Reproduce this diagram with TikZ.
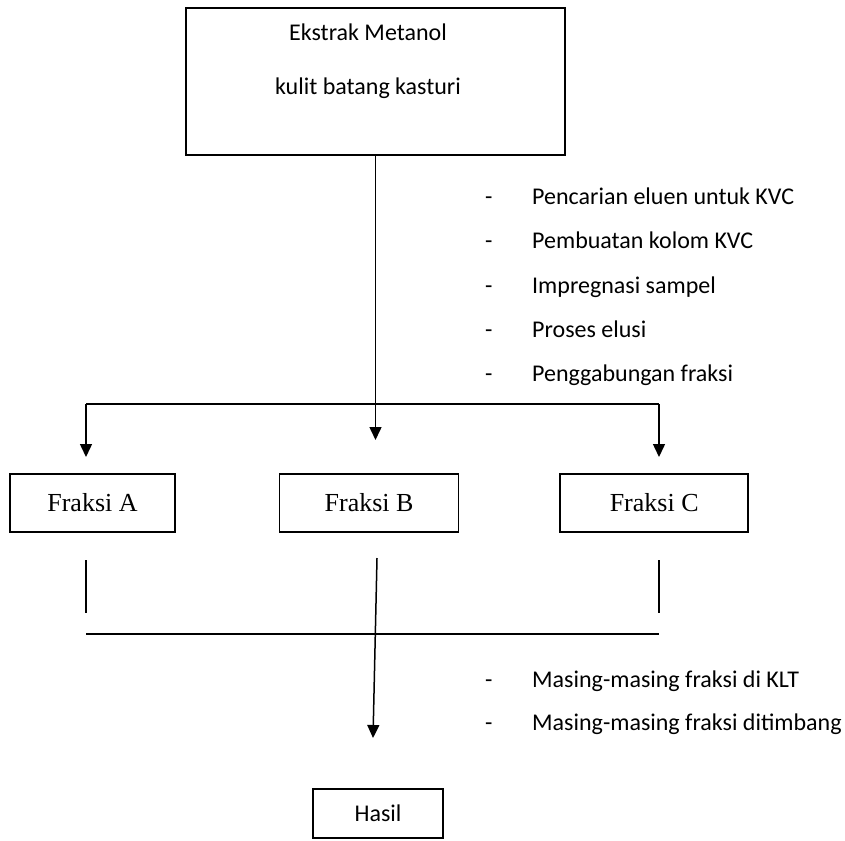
\documentclass[tikz,border=0pt]{standalone}
\usepackage{fontspec}
\setmainfont{Carlito}
\newfontfamily\timesfont{Liberation Serif}
\usetikzlibrary{arrows.meta, positioning}

\begin{document}
\begin{tikzpicture}[
    x=1pt, y=-1pt,
    every node/.style={font=\fontsize{24}{28}\selectfont},
    kotak/.style={draw, line width=1.6pt, inner sep=0pt},
    fraksi/.style={kotak, minimum height=58pt, font=\timesfont\fontsize{26}{30}\selectfont},
    garis/.style={line width=1.5pt},
    panah/.style={garis, -{Triangle[length=13pt, width=12pt]}},
    butir/.style={anchor=base west, inner sep=0pt}
  ]
    \useasboundingbox (0,0) rectangle (845,840);

    % bahan awal
    \node[kotak, minimum width=379pt, minimum height=147pt] (ekstrak) at (375.5,81.5) {};
    \node[anchor=base] (ekstrak1) at (368,41) {Ekstrak Metanol};
    \node[anchor=base] (ekstrak2) at (368,95) {kulit batang kasturi};

    % tahap KVC
    \node[butir] (eluen)        at (485,204) {\makebox[47pt][l]{-}Pencarian eluen untuk KVC};
    \node[butir] (kolom)        at (485,248) {\makebox[47pt][l]{-}Pembuatan kolom KVC};
    \node[butir] (impregnasi)   at (485,293) {\makebox[47pt][l]{-}Impregnasi sampel};
    \node[butir] (elusi)        at (485,337) {\makebox[47pt][l]{-}Proses elusi};
    \node[butir] (penggabungan) at (485,381) {\makebox[47pt][l]{-}Penggabungan fraksi};

    % fraksi hasil KVC
    \node[fraksi, minimum width=165pt] (fraksiA) at (92.5,503) {Fraksi A};
    \node[fraksi, minimum width=179pt, right=103pt of fraksiA] (fraksiB) {Fraksi B};
    \node[fraksi, minimum width=188pt, right=100pt of fraksiB] (fraksiC) {Fraksi C};

    % uji lanjut
    \node[butir] (klt)     at (485,687) {\makebox[47pt][l]{-}Masing-masing fraksi di KLT};
    \node[butir] (timbang) at (485,730) {\makebox[47pt][l]{-}Masing-masing fraksi ditimbang};

    \node[kotak, minimum width=130pt, minimum height=49pt] (hasil) at (378,813.5) {Hasil};

    \coordinate (kiri)   at (86,404);
    \coordinate (kanan)  at (659,404);
    \coordinate (ujungA) at (86,457);
    \coordinate (ujungB) at (375.5,440);
    \coordinate (ujungC) at (659,457);

    \coordinate (atasA)  at (86,560);
    \coordinate (bawahA) at (86,613);
    \coordinate (atasC)  at (659,560);
    \coordinate (bawahC) at (659,613);
    \coordinate (atasB)  at (377,558);
    \coordinate (ujungH) at (373,738);
    \coordinate (gabungKiri)  at (86,634);
    \coordinate (gabungKanan) at (659,634);

    \draw[panah] (ekstrak.south) -- (ujungB);
    \draw[garis] (kiri) -- (kanan);
    \draw[panah] (kiri) -- (ujungA);
    \draw[panah] (kanan) -- (ujungC);

    \draw[garis] (atasA) -- (bawahA);
    \draw[garis] (atasC) -- (bawahC);
    \draw[garis] (gabungKiri) -- (gabungKanan);
    \draw[panah] (atasB) -- (ujungH);

  \end{tikzpicture}
\end{document}
